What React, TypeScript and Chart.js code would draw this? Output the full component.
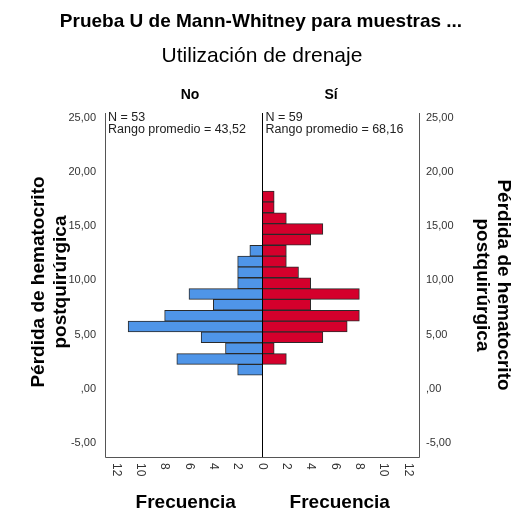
import React, { useEffect, useRef } from 'react';
import { Chart, registerables } from 'chart.js';

Chart.register(...registerables);

// Bin centres (lower edges at x.25, width 1) of the back-to-back histogram
const binCenters = [1.75, 2.75, 3.75, 4.75, 5.75, 6.75, 7.75, 8.75, 9.75, 10.75, 11.75, 12.75, 13.75, 14.75, 15.75, 16.75, 17.75];
const noFreq = [2, 7, 3, 5, 11, 8, 4, 6, 2, 2, 2, 1, 0, 0, 0, 0, 0];
const siFreq = [0, 2, 1, 5, 7, 8, 4, 8, 4, 3, 2, 2, 4, 5, 2, 1, 1];

const yTickValues = [-5, 0, 5, 10, 15, 20, 25];
const yTickLabels = ['-5,00', ',00', '5,00', '10,00', '15,00', '20,00', '25,00'];
const xTickValues = [-12, -10, -8, -6, -4, -2, 0, 2, 4, 6, 8, 10, 12];
const xTickLabels = ['12', '10', '8', '6', '4', '2', '0', '2', '4', '6', '8', '10', '12'];

const groupLabels = ['No', 'Sí'];
const groupStats = [
  ['N = 53', 'Rango promedio = 43,52'],
  ['N = 59', 'Rango promedio = 68,16'],
];
const titleLines = ['Prueba U de Mann-Whitney para muestras ...', 'Utilización de drenaje'];
const yTitleLines = ['Pérdida de hematocrito', 'postquirúrgica'];
const xTitle = 'Frecuencia';

const FONT = '"Liberation Sans", Arial, sans-serif';

const decorPlugin = {
  id: 'decor',
  afterDraw(chart: any) {
    const { ctx, chartArea } = chart;
    const xs = chart.scales.x;
    const { left, right, top, bottom } = chartArea;
    ctx.save();
    // frame
    ctx.strokeStyle = '#555';
    ctx.lineWidth = 1;
    ctx.beginPath();
    ctx.moveTo(left + 0.5, top);
    ctx.lineTo(left + 0.5, bottom + 0.5);
    ctx.lineTo(right + 0.5, bottom + 0.5);
    ctx.lineTo(right + 0.5, top);
    ctx.stroke();
    // centre line
    const x0 = Math.round(xs.getPixelForValue(0)) + 0.5;
    ctx.strokeStyle = '#000';
    ctx.beginPath();
    ctx.moveTo(x0, top);
    ctx.lineTo(x0, bottom);
    ctx.stroke();

    // x tick labels, rotated clockwise
    ctx.fillStyle = '#333';
    ctx.font = `12px ${FONT}`;
    ctx.textAlign = 'left';
    ctx.textBaseline = 'middle';
    xTickValues.forEach((v, i) => {
      const px = xs.getPixelForValue(v);
      ctx.save();
      ctx.translate(px, bottom + 6);
      ctx.rotate(Math.PI / 2);
      ctx.fillText(xTickLabels[i], 0, 0);
      ctx.restore();
    });

    // x titles
    ctx.fillStyle = '#000';
    ctx.font = `bold 19px ${FONT}`;
    ctx.textAlign = 'center';
    ctx.fillText(xTitle, (left + x0) / 2 + 2, 503);
    ctx.fillText(xTitle, (x0 + right) / 2 - 1, 503);

    // titles
    ctx.font = `bold 19px ${FONT}`;
    ctx.fillText(titleLines[0], 261, 22);
    ctx.font = `21px ${FONT}`;
    ctx.fillText(titleLines[1], 262, 56);

    // group labels
    ctx.font = `bold 14px ${FONT}`;
    ctx.fillText(groupLabels[0], 190, 95);
    ctx.fillText(groupLabels[1], 331, 95);

    // stats
    ctx.font = `12.5px ${FONT}`;
    ctx.textAlign = 'left';
    ctx.fillStyle = '#222';
    ctx.fillText(groupStats[0][0], left + 3, 118);
    ctx.fillText(groupStats[0][1], left + 3, 130);
    ctx.fillText(groupStats[1][0], x0 + 3, 118);
    ctx.fillText(groupStats[1][1], x0 + 3, 130);

    // y titles
    ctx.fillStyle = '#000';
    ctx.font = `bold 19px ${FONT}`;
    ctx.textAlign = 'center';
    ctx.save();
    ctx.translate(39, 282);
    ctx.rotate(-Math.PI / 2);
    ctx.fillText(yTitleLines[0], 0, 0);
    ctx.fillText(yTitleLines[1], 0, 22);
    ctx.restore();
    ctx.save();
    ctx.translate(503, 285);
    ctx.rotate(Math.PI / 2);
    ctx.fillText(yTitleLines[0], 0, 0);
    ctx.fillText(yTitleLines[1], 0, 21);
    ctx.restore();

    ctx.restore();
  },
};

export default function App() {
  const ref = useRef<HTMLCanvasElement | null>(null);
  useEffect(() => {
    if (!ref.current) return;
    const noData = noFreq
      .map((v, i) => ({ x: -v, y: binCenters[i] }))
      .filter((d) => d.x !== 0);
    const siData = siFreq
      .map((v, i) => ({ x: v, y: binCenters[i] }))
      .filter((d) => d.x !== 0);
    const yTickCfg = (padding: number) => ({
      padding,
      color: '#333',
      font: { family: FONT, size: 11 },
      callback: (v: any) => {
        const i = yTickValues.indexOf(Number(v));
        return i >= 0 ? yTickLabels[i] : '';
      },
    });
    const yScale = (position: string, width: number, padding: number) => ({
      type: 'linear',
      position,
      min: -6.3,
      max: 25.46,
      offset: false,
      grid: { display: false, drawTicks: false, offset: false },
      border: { display: false },
      afterBuildTicks: (s: any) => {
        s.ticks = yTickValues.map((v) => ({ value: v }));
      },
      afterFit: (s: any) => {
        s.width = width;
      },
      ticks: yTickCfg(padding),
    });
    const chart = new Chart(ref.current, {
      type: 'bar',
      data: {
        datasets: [
          {
            label: groupLabels[0],
            data: noData as any,
            backgroundColor: '#4F95E8',
            borderColor: '#2a2a2a',
            borderWidth: 1,
            grouped: false,
            barPercentage: 1,
            categoryPercentage: 1,
            xAxisID: 'x',
            yAxisID: 'y',
          },
          {
            label: groupLabels[1],
            data: siData as any,
            backgroundColor: '#D4002C',
            borderColor: '#2a2a2a',
            borderWidth: 1,
            grouped: false,
            barPercentage: 1,
            categoryPercentage: 1,
            xAxisID: 'x',
            yAxisID: 'y',
          },
        ],
      },
      options: {
        indexAxis: 'y',
        responsive: false,
        animation: false,
        layout: { padding: { top: 113, bottom: 54, left: 0, right: 0 } },
        plugins: { legend: { display: false }, tooltip: { enabled: false } },
        scales: {
          x: { type: 'linear', min: -12.9, max: 12.9, display: false },
          y: yScale('left', 105, 9),
          y2: yScale('right', 95, 7),
        },
      } as any,
      plugins: [decorPlugin],
    });
    return () => chart.destroy();
  }, []);
  return (
    <div style={{ position: 'fixed', left: 0, top: 0, width: 514, height: 511, background: '#fff' }}>
      <canvas ref={ref} width={514} height={511} style={{ display: 'block' }} />
    </div>
  );
}
